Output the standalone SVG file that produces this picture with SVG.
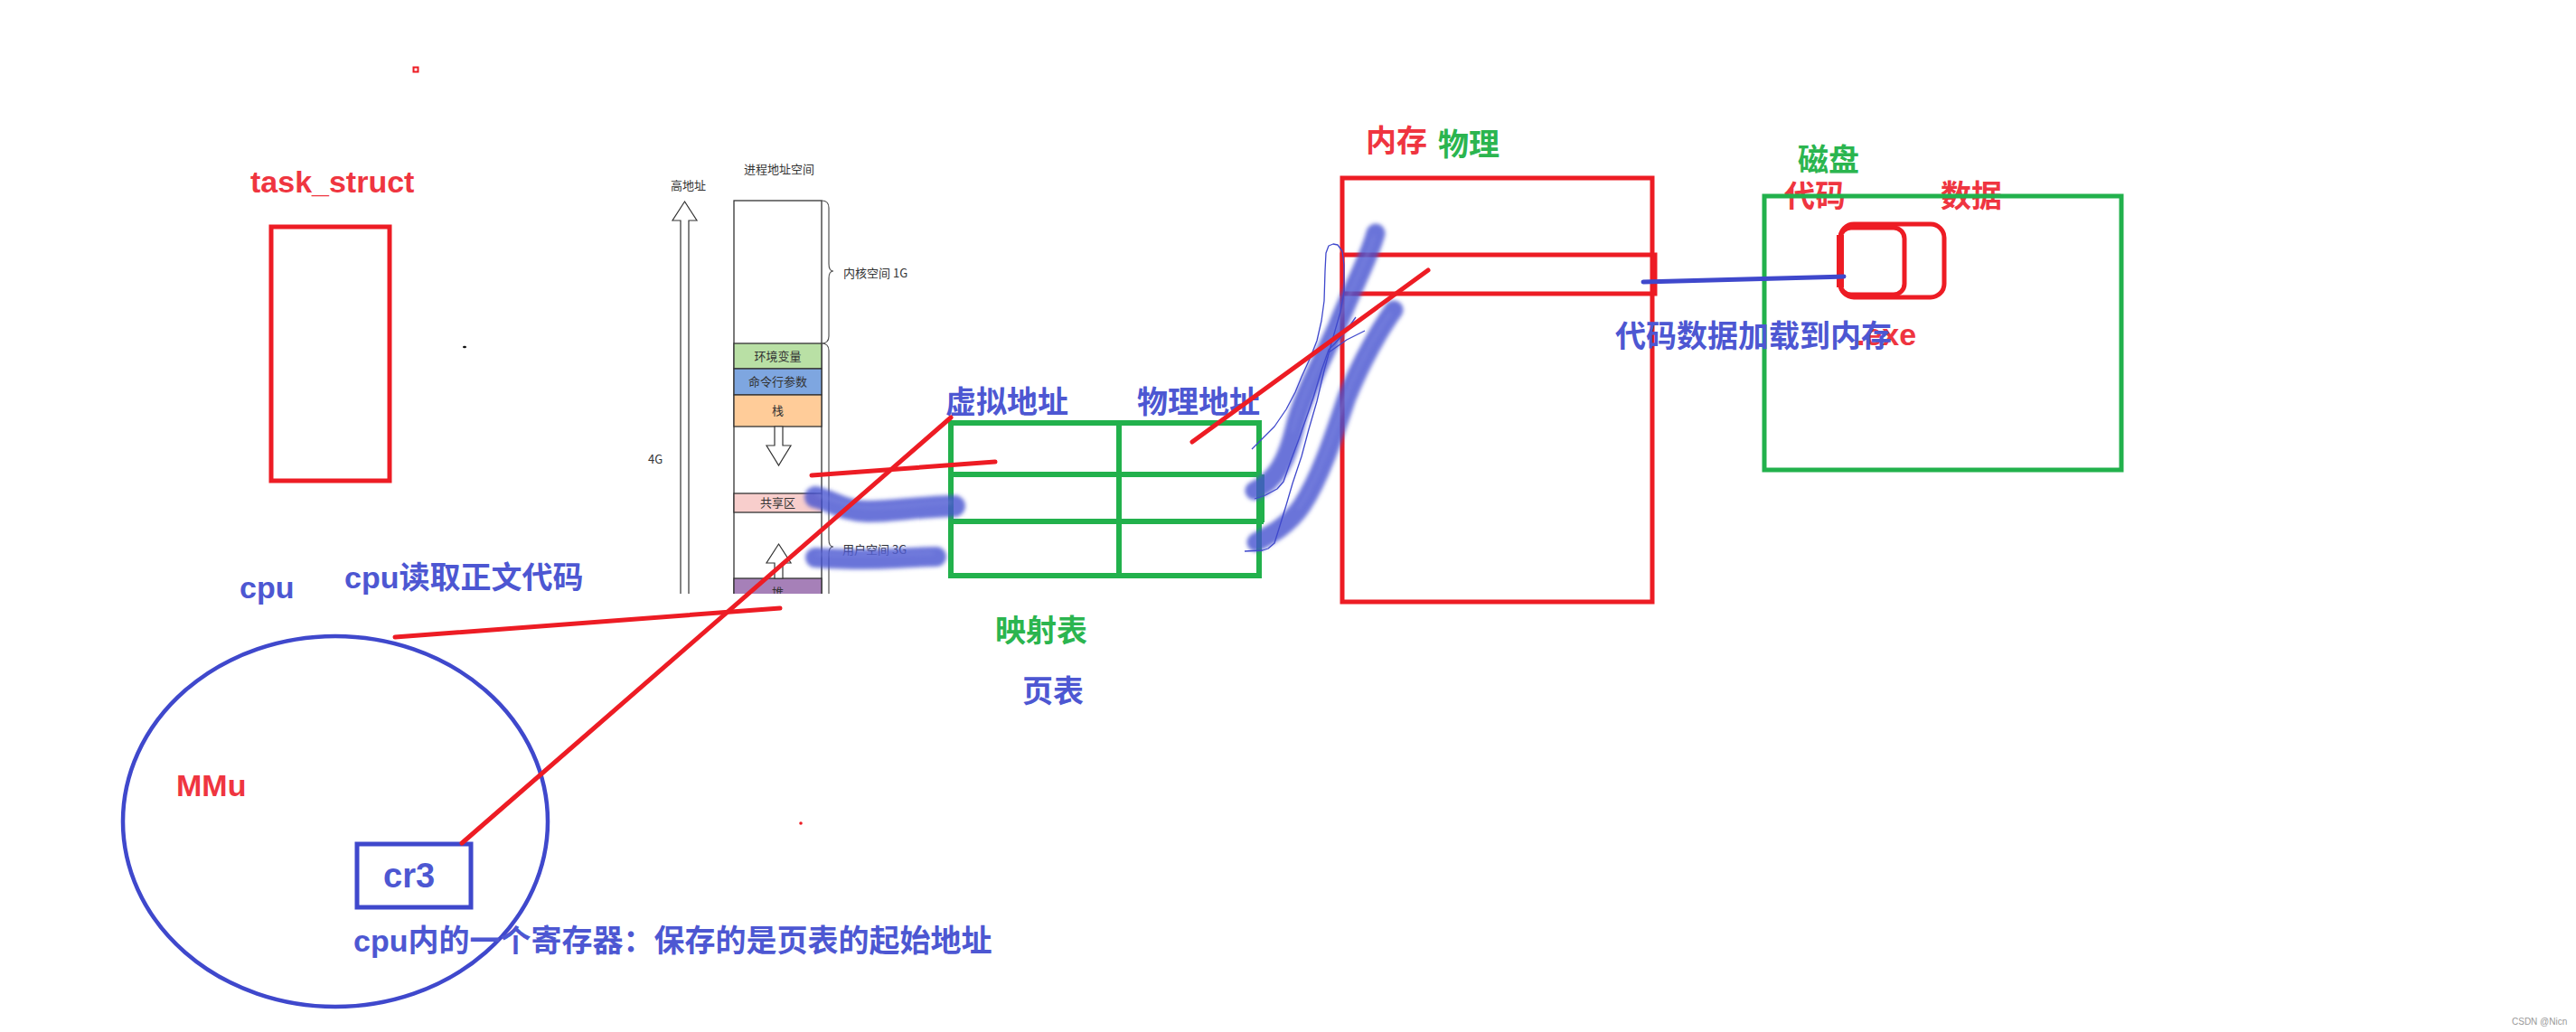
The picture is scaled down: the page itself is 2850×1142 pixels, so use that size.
<svg xmlns="http://www.w3.org/2000/svg" width="2850" height="1142" viewBox="0 0 2850 1142">
<style>
.red{fill:none;stroke:#ed1c24;stroke-width:5}
.grn{fill:none;stroke:#22b14c;stroke-width:6}
.blu{fill:none;stroke:#3f48cc;stroke-width:5}
.ln{stroke-linecap:round;fill:none}
.lb{font-family:"Liberation Sans","Noto Sans CJK SC",sans-serif;font-weight:bold;font-size:34px}
.cjk{font-family:"Noto Sans CJK SC",sans-serif;font-weight:bold;font-size:34px}
.tr{fill:#ef3540}.tb{fill:#4d57d2}.tg{fill:#2bb54f}
.sm{font-family:"Noto Sans CJK SC",sans-serif;font-size:13px;fill:#333}
.cell{stroke:#333;stroke-width:1.3}
.hl{fill:none;stroke:#4651cf;stroke-opacity:0.8;stroke-linecap:round;stroke-linejoin:round;filter:url(#blur)}
.hs{fill:none;stroke:#7d86e0;stroke-opacity:0.55;stroke-width:3;stroke-linecap:round;filter:url(#blur)}
.thin{fill:none;stroke:#3f48cc;stroke-width:1.3;stroke-linejoin:round}
</style>
<defs>
<filter id="blur" filterUnits="userSpaceOnUse" x="0" y="0" width="2850" height="1142"><feGaussianBlur stdDeviation="2"/></filter>
<clipPath id="cut"><rect x="0" y="0" width="2850" height="657"/></clipPath>
</defs>
<rect width="2850" height="1142" fill="#fff"/>

<g id="task_struct">
<text class="lb tr" x="277" y="213">task_struct</text>
<rect class="red" x="300" y="251" width="131" height="281"/>
</g>

<g id="marks">
<rect x="457.5" y="74.5" width="5" height="5" fill="none" stroke="#ed1c24" stroke-width="2"/>
<ellipse cx="514" cy="384" rx="2" ry="1.3" fill="#111"/>
<circle cx="886" cy="911" r="1.8" fill="#ed1c24"/>
</g>

<g id="address_space" clip-path="url(#cut)">
<text class="sm" x="823" y="192">进程地址空间</text>
<text class="sm" x="742" y="210">高地址</text>
<polygon points="757.5,223 771,244 762,244 762,700 753,700 753,244 744,244" fill="#fff" stroke="#333" stroke-width="1.2"/>
<text class="sm" x="717" y="513">4G</text>
<rect x="812" y="222" width="97" height="500" fill="#fff" stroke="#333" stroke-width="1.3"/>
<rect class="cell" x="812" y="380" width="97" height="28" fill="#b9e0a5"/>
<rect class="cell" x="812" y="408" width="97" height="29" fill="#7ea6e0"/>
<rect class="cell" x="812" y="437" width="97" height="35" fill="#ffcc99"/>
<rect class="cell" x="812" y="546" width="97" height="21" fill="#f8cecc"/>
<rect class="cell" x="812" y="640" width="97" height="60" fill="#a680b8"/>
<text class="sm" x="860.5" y="399" text-anchor="middle">环境变量</text>
<text class="sm" x="860.5" y="427" text-anchor="middle">命令行参数</text>
<text class="sm" x="860.5" y="459" text-anchor="middle">栈</text>
<text class="sm" x="860.5" y="561" text-anchor="middle">共享区</text>
<text class="sm" x="860.5" y="660" text-anchor="middle">堆</text>
<polygon points="857,472 866,472 866,493 875,493 861.5,515 848,493 857,493" fill="#fff" stroke="#333" stroke-width="1.2"/>
<polygon points="861.5,602 875,623 866,623 866,640 857,640 857,623 848,623" fill="#fff" stroke="#333" stroke-width="1.2"/>
<path d="M909,222 Q917,222 917,230 L917,292 Q917,300 922,300 Q917,300 917,308 L917,372 Q917,380 909,380" fill="none" stroke="#555" stroke-width="1.2"/>
<path d="M909,380 Q917,380 917,388 L917,597 Q917,605 922,605 Q917,605 917,613 L917,700" fill="none" stroke="#555" stroke-width="1.2"/>
<text class="sm" x="933" y="307">内核空间 1G</text>
<text class="sm" x="932" y="613">用户空间 3G</text>
</g>

<g id="page_table">
<text class="cjk tb" x="1046" y="457">虚拟地址</text>
<text class="cjk tb" x="1258" y="457">物理地址</text>
<rect class="grn" x="1052" y="468" width="341" height="169"/>
<line class="grn" x1="1238" y1="468" x2="1238" y2="637"/>
<line class="grn" x1="1052" y1="525" x2="1393" y2="525"/>
<line class="grn" x1="1052" y1="577" x2="1398" y2="577"/>
<line class="grn" x1="1396" y1="525" x2="1396" y2="578"/>
<text class="cjk tg" x="1101" y="710">映射表</text>
<text class="cjk tb" x="1131" y="777">页表</text>
</g>

<g id="memory">
<text class="cjk tr" x="1511" y="168">内存</text>
<text class="cjk tg" x="1591" y="172">物理</text>
<rect class="red" x="1485" y="197" width="343" height="469"/>
<rect class="red" x="1485" y="282" width="346" height="43"/>
</g>

<g id="disk">
<text class="cjk tg" x="1989" y="189">磁盘</text>
<text class="cjk tr" x="1974" y="229">代码</text>
<text class="cjk tr" x="2147" y="229">数据</text>
<rect x="1952" y="217" width="395" height="303" fill="none" stroke="#22b14c" stroke-width="5"/>
<rect class="red" x="2036" y="248" width="115" height="81" rx="15"/>
<rect class="red" x="2036" y="252" width="71" height="74" rx="12"/>
<line x1="2036" y1="260" x2="2036" y2="318" stroke="#ed1c24" stroke-width="8"/>
<text class="lb tr" x="2054" y="382">.exe</text>
</g>

<g id="cpu">
<text class="lb tb" x="265" y="662">cpu</text>
<text class="lb tb" x="381" y="651">cpu读取正文代码</text>
<ellipse cx="371" cy="909" rx="235" ry="205" fill="none" stroke="#3f48cc" stroke-width="4.5"/>
<text class="lb tr" x="195" y="881">MMu</text>
<rect class="blu" x="395" y="934" width="126" height="70"/>
<text class="lb tb" x="424" y="982" style="font-size:38px">cr3</text>
<text class="lb tb" x="391" y="1053">cpu内的一个寄存器：保存的是页表的起始地址</text>
</g>

<g id="connectors">
<path class="hl" d="M902,550 C920,554 935,566 960,566 C990,566 1010,561 1056,560" stroke-width="24"/>
<path class="hs" d="M905,548 C925,553 940,562 965,562 C995,562 1015,557 1052,556"/>
<path class="hl" d="M902,617 C930,619 960,620 990,618 C1010,617 1025,616 1036,616" stroke-width="22"/>
<path class="hs" d="M905,613 C935,615 965,615 1032,612"/>
<path class="hl" d="M1522,258 C1515,285 1498,315 1480,360 C1462,400 1440,440 1432,475 C1424,508 1412,532 1388,543" stroke-width="21"/>
<path class="hs" d="M1520,262 C1512,288 1495,318 1478,362 C1460,402 1438,442 1430,477"/>
<path class="hl" d="M1542,343 C1528,362 1507,398 1490,440 C1475,485 1460,530 1440,560 C1425,582 1405,592 1390,600" stroke-width="21"/>
<path class="hs" d="M1538,347 C1524,366 1503,402 1487,444 C1472,488 1457,532 1437,562"/>
<polyline class="thin" points="1385,497 1395,487 1410,472 1423,453 1433,434 1440,417 1450,395 1457,377 1462,355 1465,333 1466,300 1467,280 1470,272 1475,270 1480,271 1485,278 1487,293 1487,323 1483,345 1473,380 1465,410 1457,444 1448,475 1440,505 1430,535 1423,559 1415,585 1410,601 1403,607 1397,609 1377,610"/>
<polyline class="thin" points="1388,552 1400,548 1413,541 1420,533 1428,510 1437,486 1445,463 1453,440 1462,410 1470,387 1477,380 1490,365 1500,351"/>
<polyline class="thin" points="1470,390 1490,376 1510,366"/>
<line class="red ln" x1="437" y1="705" x2="863" y2="673"/>
<line class="red ln" x1="898" y1="526" x2="1101" y2="511"/>
<line class="red ln" x1="511" y1="933" x2="1052" y2="462" stroke-width="4.5"/>
<line class="red ln" x1="1319" y1="489" x2="1580" y2="299"/>
<line class="blu ln" x1="1818" y1="312" x2="2040" y2="306"/>
</g>

<text class="cjk tb" x="1787" y="384">代码数据加载到内存</text>
<text x="2779" y="1134" font-family="Liberation Sans,sans-serif" font-size="10" fill="#999">CSDN @Nicn</text>
</svg>
